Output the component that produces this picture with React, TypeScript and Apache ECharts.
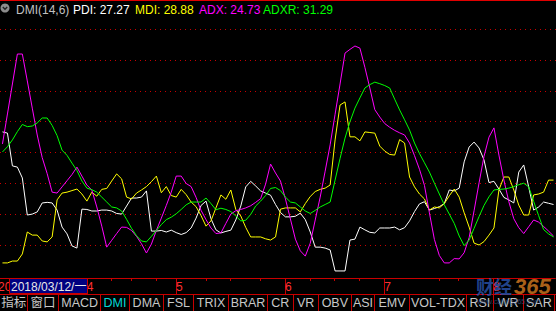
import React, { useEffect, useRef } from "react";
import * as echarts from "echarts";

// ---- trading days (2018) ----
const marDays = [8, 9, 12, 13, 14, 15, 16, 19, 20, 21, 22, 23, 26, 27, 28, 29, 30];
const aprDays = [2, 3, 4, 9, 10, 11, 12, 13, 16, 17, 18, 19, 20, 23, 24, 25, 26, 27];
const mayDays = [2, 3, 4, 7, 8, 9, 10, 11, 14, 15, 16, 17, 18, 21, 22, 23, 24, 25, 28, 29, 30, 31];
const junDays = [1, 4, 5, 6, 7, 8, 11, 12, 13, 14, 15, 19, 20, 21, 22, 25, 26, 27, 28, 29];
const julDays = [2, 3, 4, 5, 6, 9, 10, 11, 12, 13, 16, 17, 18, 19, 20, 23, 24, 25, 26, 27, 30, 31];
const augDays = [1, 2, 3, 6, 7, 8, 9, 10, 13, 14, 15, 16, 17];

const weekTickDates = [
  "2018-04-11", "2018-04-17", "2018-04-24", "2018-05-10", "2018-05-17", "2018-05-25",
  "2018-06-08", "2018-06-15", "2018-06-25", "2018-07-17", "2018-07-23", "2018-08-08",
];

// ---- DMI series ----
const PDI = [
  46.7, 46.3, 35.7, 35.3, 31.8, 19.8, 20.1, 20.8, 23.7, 23.9,
  23.7, 21.4, 15.9, 13.7, 9.8, 9.1, 21.7, 21.6, 21.1, 21.1,
  21.4, 21.4, 21.1, 20.3, 20.1, 22.7, 25.3, 25.3, 25.6, 27.6,
  14.6, 14.6, 14.8, 14.3, 14.9, 14.1, 13.5, 14.1, 15.6, 18.8,
  22.9, 24.3, 18.6, 15.0, 14.0, 14.5, 14.9, 18.2, 22.7, 28.9,
  30.7, 29.2, 27.6, 26.9, 26.2, 23.2, 20.6, 19.2, 19.2, 19.4,
  20.4, 18.3, 14.3, 9.4, 9.4, 9.1, 8.5, 1.7, 1.7, 1.7,
  11.7, 12.0, 15.9, 15.0, 14.2, 14.0, 15.6, 15.6, 15.6, 15.9,
  15.0, 15.7, 17.9, 20.9, 23.4, 24.1, 21.4, 21.9, 22.5, 23.5,
  27.9, 27.6, 28.5, 37.0, 41.8, 43.4, 41.5, 37.6, 30.3, 30.7,
  28.2, 25.5, 24.7, 23.7, 33.7, 36.0, 28.9, 21.4, 22.4, 24.0, 23.6, 23.2,
];
const MDI = [
  4.3, 4.3, 4.9, 4.9, 7.2, 14.3, 13.3, 13.3, 11.4, 11.1,
  12.7, 24.7, 26.9, 27.2, 27.7, 28.2, 26.6, 24.3, 27.2, 25.9,
  28.1, 28.4, 30.8, 33.1, 31.5, 25.6, 25.0, 26.9, 27.9, 29.0,
  30.6, 32.4, 27.0, 29.0, 26.1, 25.6, 28.1, 26.4, 24.0, 22.5,
  19.6, 16.2, 17.9, 22.1, 26.3, 24.9, 27.9, 21.6, 19.5, 15.8,
  12.7, 12.7, 12.7, 12.1, 11.7, 12.7, 21.7, 22.1, 22.1, 22.1,
  20.8, 23.5, 25.8, 27.4, 28.1, 28.5, 29.5, 44.1, 55.4, 56.4,
  45.1, 45.1, 43.8, 46.7, 46.5, 46.3, 42.1, 40.5, 39.4, 39.2,
  44.2, 43.1, 32.1, 28.9, 26.6, 25.0, 21.4, 22.4, 22.1, 23.5,
  26.0, 28.2, 25.6, 20.5, 15.9, 10.7, 10.1, 11.2, 13.3, 15.6,
  27.9, 32.1, 32.1, 27.9, 23.0, 19.8, 19.8, 26.3, 26.6, 27.2, 31.1, 31.1,
];
const ADX = [
  42.8, 52.5, 62.2, 71.9, 71.9, 63.2, 54.4, 45.7, 38.4, 33.2,
  27.2, 26.9, 28.9, 30.9, 32.9, 35.3, 32.4, 29.5, 27.9, 22.4,
  16.2, 9.4, 11.6, 13.8, 15.9, 15.8, 14.8, 12.9, 10.5, 7.5,
  10.4, 14.8, 18.8, 22.9, 27.2, 32.4, 32.4, 30.0, 29.0, 25.5,
  21.3, 18.3, 15.6, 13.8, 14.0, 17.1, 20.1, 21.2, 21.6, 22.1,
  22.8, 23.9, 25.1, 29.8, 36.3, 33.4, 30.8, 25.0, 18.5, 12.0,
  8.2, 6.5, 10.7, 18.2, 25.6, 34.0, 42.5, 52.4, 62.2, 72.2,
  73.4, 74.5, 73.8, 67.6, 60.9, 53.9, 51.5, 49.4, 48.2, 47.2,
  46.4, 45.7, 43.1, 39.0, 34.6, 29.4, 20.5, 11.9, 6.7, 4.3,
  4.3, 5.7, 5.6, 7.6, 12.5, 21.2, 30.2, 38.8, 45.0, 48.0,
  39.2, 31.1, 24.1, 18.6, 15.7, 13.8, 16.0, 18.2, 17.5, 16.1, 14.6, 13.0,
];
const ADXR = [
  40.2, 41.9, 44.1, 46.8, 49.1, 48.4, 48.6, 49.6, 51.2, 51.2,
  48.8, 45.5, 40.8, 39.1, 36.6, 34.2, 30.8, 28.5, 28.0, 27.2,
  25.6, 24.0, 22.4, 22.1, 21.1, 18.4, 15.5, 13.1, 11.4, 11.1,
  12.9, 14.8, 16.7, 18.3, 19.1, 20.2, 21.6, 23.1, 24.0, 24.0,
  24.0, 25.3, 23.5, 21.5, 22.0, 21.6, 20.9, 19.5, 17.9, 18.1,
  20.0, 22.7, 24.3, 26.1, 28.4, 28.7, 27.7, 25.6, 24.0, 23.7,
  22.4, 21.1, 20.3, 21.3, 22.4, 23.2, 24.0, 31.1, 38.1, 44.7,
  50.0, 54.4, 57.7, 60.9, 62.0, 62.8, 62.3, 61.7, 60.9, 57.3,
  53.8, 50.6, 47.3, 43.1, 39.7, 36.7, 33.7, 30.1, 26.6, 23.1,
  20.1, 17.1, 13.0, 9.9, 11.7, 15.5, 19.3, 22.9, 25.7, 27.9,
  28.1, 28.2, 28.5, 29.0, 29.6, 30.1, 28.9, 24.2, 19.6, 15.1, 13.7, 12.7,
];

const titleItems = [
  { text: "DMI(14,6)", color: "#c0c0c0" },
  { text: "PDI: 27.27", color: "#ffffff" },
  { text: "MDI: 28.88", color: "#ffff00" },
  { text: "ADX: 24.73", color: "#ff00ff" },
  { text: "ADXR: 31.29", color: "#00ff00" },
];
const tabs = ["指标", "窗口", "MACD", "DMI", "DMA", "FSL", "TRIX", "BRAR", "CR", "VR", "OBV", "ASI", "EMV", "VOL-TDX", "RSI", "WR", "SAR"];
const activeTab = "DMI";
const cursorDate = "2018/03/12/一";

// ---- layout constants ----
const W = 556;
const H = 311;
const FONT = "'Liberation Sans', Arial, 'Noto Sans CJK SC', sans-serif";
const RED = "#c80000";
const titleX = [16, 73, 135, 199, 263];
const tabSeps = [26.7, 58.3, 100, 129, 163, 193, 228, 267, 292.7, 317.7, 351, 374, 409, 466, 492.7, 522.7, 554];

const pad = (n: number) => (n < 10 ? "0" + n : "" + n);
const monthGroups: [number, number[]][] = [
  [3, marDays], [4, aprDays], [5, mayDays], [6, junDays], [7, julDays], [8, augDays],
];
const dates: string[] = [];
monthGroups.forEach(([m, days]) => days.forEach((d) => dates.push(`2018-${pad(m)}-${pad(d)}`)));
const monthStartIdx = new Set<number>();
dates.forEach((d, i) => {
  if (i > 0 && d.slice(5, 7) !== dates[i - 1].slice(5, 7)) monthStartIdx.add(i);
});
const weekTickIdx = new Set<number>(weekTickDates.map((d) => dates.indexOf(d)));

export default function App() {
  const ref = useRef<HTMLDivElement>(null);
  useEffect(() => {
    document.body.style.margin = "0";
    document.body.style.background = "#000";
    if (!ref.current) return;
    const chart = echarts.init(ref.current, undefined, { renderer: "svg" });

    const graphics: any[] = [];
    // top border
    graphics.push({ type: "rect", shape: { x: 0, y: 0, width: W, height: 1 }, style: { fill: "#e00000" }, z: 100, silent: true });
    // title icon
    graphics.push({ type: "circle", shape: { cx: 5, cy: 8, r: 4.5 }, style: { fill: "#8c8c8c" }, z: 100, silent: true });
    graphics.push({ type: "polyline", shape: { points: [[2.8, 7], [5, 9.3], [7.2, 7]] }, style: { stroke: "#202020", lineWidth: 1.3, fill: null }, z: 101, silent: true });
    titleItems.forEach((t, i) => {
      graphics.push({
        type: "text", x: titleX[i], y: 9.5, z: 100, silent: true,
        style: { text: t.text, fill: t.color, font: `12px ${FONT}`, verticalAlign: "middle", align: "left" },
      });
    });
    // year label partly hidden behind the date box
    graphics.push({ type: "text", x: -2, y: 286.5, z: 99, silent: true, style: { text: "20", fill: "#ff3030", font: `12px ${FONT}`, verticalAlign: "middle" } });
    // date box
    graphics.push({ type: "rect", shape: { x: 9.5, y: 278.5, width: 78, height: 15 }, style: { fill: "#000080", stroke: RED, lineWidth: 1 }, z: 100, silent: true });
    graphics.push({ type: "text", x: 11, y: 286.5, z: 101, silent: true, style: { text: cursorDate, fill: "#e8e8e8", font: `12px ${FONT}`, verticalAlign: "middle" } });
    // tab bar
    graphics.push({ type: "line", shape: { x1: 0, y1: 294.5, x2: W, y2: 294.5 }, style: { stroke: RED, lineWidth: 1 }, z: 100, silent: true });
    tabSeps.forEach((sx) => {
      graphics.push({ type: "line", shape: { x1: Math.round(sx) + 0.5, y1: 294.5, x2: Math.round(sx) + 0.5, y2: H }, style: { stroke: RED, lineWidth: 1 }, z: 100, silent: true });
    });
    tabs.forEach((t, i) => {
      const a = i === 0 ? 0 : tabSeps[i - 1];
      const b = tabSeps[i];
      graphics.push({
        type: "text", x: (a + b) / 2 + 0.5, y: 303, z: 100, silent: true,
        style: { text: t, fill: t === activeTab ? "#00d8d8" : "#c8c8c8", font: `12.5px ${FONT}`, align: "center", verticalAlign: "middle" },
      });
    });
    // watermark
    graphics.push({ type: "text", x: 476, y: 286, z: 102, silent: true, style: { text: "财经", fill: "rgba(40,80,165,0.85)", font: `bold 18px 'Noto Sans CJK SC', sans-serif`, verticalAlign: "middle" } });
    graphics.push({ type: "text", x: 514, y: 286, z: 102, silent: true, style: { text: "365", fill: "rgba(200,115,30,0.85)", font: `italic bold 22px ${FONT}`, verticalAlign: "middle" } });
    graphics.push({ type: "text", x: 477, y: 301, z: 102, silent: true, style: { text: "www.caijing365.com", fill: "rgba(60,90,150,0.7)", font: `7px ${FONT}`, verticalAlign: "middle" } });

    const gridLineColors = ["rgba(0,0,0,0)", RED, RED, RED, RED, RED, RED, RED, RED, "rgba(0,0,0,0)", "rgba(0,0,0,0)"];

    const mkLine = (data: number[], color: string) => ({
      type: "line", xAxisIndex: 0, yAxisIndex: 0, data, symbol: "none", showSymbol: false,
      lineStyle: { color, width: 1 }, silent: true, smooth: false,
    });

    chart.setOption({
      backgroundColor: "#000",
      animation: false,
      grid: [
        { left: -3.5, width: 560, top: 1, height: 275.2 },
        { left: -4.7, width: 560, top: 1, height: 277 },
      ],
      xAxis: [
        { gridIndex: 0, type: "category", data: dates, boundaryGap: true, show: false },
        {
          gridIndex: 1, type: "category", data: dates, boundaryGap: true, position: "bottom",
          axisLine: { show: true, lineStyle: { color: RED, width: 1 } },
          axisTick: { show: true, alignWithLabel: true, interval: (i: number) => weekTickIdx.has(i), length: 3, lineStyle: { color: RED } },
          axisLabel: {
            show: true, interval: (i: number) => monthStartIdx.has(i),
            formatter: (v: string) => String(parseInt(v.slice(5, 7), 10)),
            color: "#ff3030", fontSize: 12, fontFamily: FONT, align: "left", margin: 3,
          },
          splitLine: { show: false },
        },
        {
          gridIndex: 1, type: "category", data: dates, boundaryGap: true, position: "bottom",
          axisLine: { show: false },
          axisTick: { show: true, alignWithLabel: true, interval: (i: number) => monthStartIdx.has(i), length: 16, lineStyle: { color: RED } },
          axisLabel: { show: false }, splitLine: { show: false },
        },
      ],
      yAxis: [
        {
          gridIndex: 0, type: "value", min: 0, max: 89.06, interval: 10,
          axisLine: { show: false }, axisTick: { show: false }, axisLabel: { show: false },
          splitLine: { show: true, lineStyle: { color: gridLineColors, type: [1, 4], width: 1 } },
        },
        { gridIndex: 1, type: "value", show: false, min: 0, max: 1, splitLine: { show: false } },
      ],
      series: [
        mkLine(PDI, "#ffffff"),
        mkLine(MDI, "#ffff00"),
        mkLine(ADX, "#ff00ff"),
        mkLine(ADXR, "#00ff00"),
      ],
      graphic: { elements: graphics },
    });
    return () => chart.dispose();
  }, []);
  return <div ref={ref} style={{ width: W, height: H, background: "#000" }} />;
}
